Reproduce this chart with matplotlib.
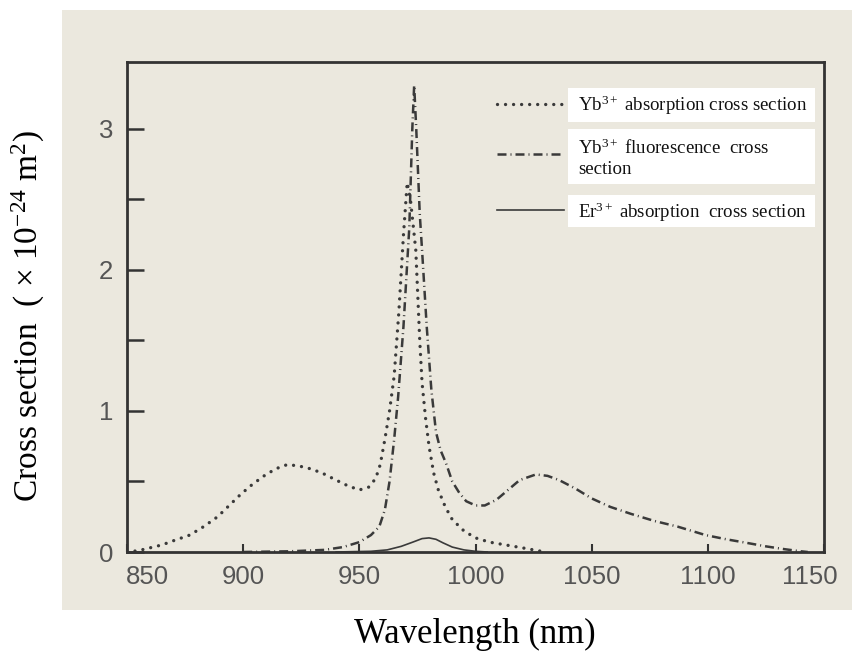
import matplotlib
matplotlib.use("Agg")
import matplotlib.pyplot as plt
from matplotlib.patches import Rectangle
from matplotlib.transforms import ScaledTranslation

# ---- data ----
abs_wl = [850, 855, 860, 865, 870, 877, 883, 889, 894, 899, 904, 909, 914, 919, 924,
          929, 934, 940, 945, 950, 954, 957, 959, 961, 963, 965, 967, 969, 970.6, 972,
          974.3, 976, 977, 978.5, 980, 982, 984, 987, 990, 995, 1000, 1006, 1013, 1020,
          1025, 1030]
abs_val = [0.0, 0.01, 0.03, 0.05, 0.08, 0.12, 0.18, 0.25, 0.33, 0.41, 0.48, 0.54, 0.59,
           0.62, 0.61, 0.59, 0.56, 0.51, 0.47, 0.44, 0.46, 0.52, 0.62, 0.80, 1.00, 1.25,
           1.70, 2.25, 2.62, 2.50, 2.14, 1.50, 1.20, 0.95, 0.75, 0.56, 0.44, 0.32, 0.23,
           0.15, 0.10, 0.07, 0.05, 0.03, 0.015, 0.0]

flu_wl = [900, 920, 935, 943, 950, 955, 958.6, 961, 963, 965, 966.7, 969, 971.5, 972.8,
          973.6, 974.5, 976, 977, 979, 981, 983, 985, 987.3, 990, 993, 996, 1000, 1004,
          1009, 1014, 1019, 1026, 1031, 1036, 1043, 1050, 1058, 1067, 1077, 1087, 1099,
          1108, 1117, 1125, 1133, 1140, 1143]
flu_val = [0.0, 0.005, 0.015, 0.035, 0.07, 0.12, 0.18, 0.30, 0.50, 0.80, 1.10, 1.60, 2.30,
           3.00, 3.31, 3.00, 2.40, 2.14, 1.60, 1.15, 0.85, 0.72, 0.63, 0.50, 0.42, 0.36,
           0.33, 0.33, 0.37, 0.44, 0.51, 0.55, 0.54, 0.51, 0.45, 0.38, 0.32, 0.27, 0.22,
           0.18, 0.12, 0.09, 0.064, 0.04, 0.02, 0.005, 0.0]

er_wl = [940, 955, 962, 968, 973, 977, 980, 983, 986, 990, 995, 1000, 1005]
er_val = [0.0, 0.005, 0.015, 0.04, 0.07, 0.095, 0.10, 0.09, 0.065, 0.035, 0.015, 0.005, 0.0]

x_ticks = [850, 900, 950, 1000, 1050, 1100, 1150]
y_ticks = [0, 0.5, 1, 1.5, 2, 2.5, 3]
y_ticklabels = ["0", "", "1", "", "2", "", "3"]

legend_labels = ["Yb$^{3+}$ absorption cross section",
                 "Yb$^{3+}$ fluorescence  cross\nsection",
                 "Er$^{3+}$ absorption  cross section"]

# ---- styling ----
plt.rcParams['mathtext.fontset'] = 'custom'
plt.rcParams['mathtext.rm'] = 'Liberation Serif'
plt.rcParams['mathtext.it'] = 'Liberation Serif:italic'
plt.rcParams['mathtext.bf'] = 'Liberation Serif:bold'

W, H = 852, 651
fig = plt.figure(figsize=(W / 100, H / 100), dpi=100, facecolor='white')

paper = '#ebe8de'
ink = '#3a3a3a'
fig.patches.append(Rectangle((62 / W, 1 - 610 / H), (852 - 62) / W, 600 / H,
                             transform=fig.transFigure, facecolor=paper,
                             edgecolor='none', zorder=-10))

ax_l, ax_r, ax_t, ax_b = 127, 824, 62, 552
ax = fig.add_axes([ax_l / W, 1 - ax_b / H, (ax_r - ax_l) / W, (ax_b - ax_t) / H])
ax.set_zorder(1)
ax.set_facecolor(paper)

ax.plot(abs_wl, abs_val, color=ink, lw=2.4, linestyle=(0, (0.01, 2.4)),
        dash_capstyle='round')
ax.plot(flu_wl, flu_val, color=ink, lw=1.8, linestyle=(0, (3.6, 1.6, 0.4, 1.6)))
ax.plot(er_wl, er_val, color=ink, lw=1.2, linestyle='-')

ax.set_xlim(850, 1150)
ax.set_ylim(0, 3.475)

for s in ax.spines.values():
    s.set_color('#333333')
    s.set_linewidth(2.0)

ax.set_xticks(x_ticks)
ax.set_xticklabels([str(t) for t in x_ticks])
ax.set_yticks(y_ticks)
ax.set_yticklabels(y_ticklabels)
ax.tick_params(axis='x', direction='in', length=6, width=1.5, color='#333333',
               labelsize=18.5, labelcolor='#555555', pad=9)
ax.tick_params(axis='y', direction='in', length=12, width=1.8, color='#333333',
               labelsize=18.5, labelcolor='#555555', pad=10)
for lab in ax.get_xticklabels() + ax.get_yticklabels():
    lab.set_family('Liberation Sans')

xl = ax.get_xticklabels()
xl[0].set_transform(xl[0].get_transform() + ScaledTranslation(0.20, 0, fig.dpi_scale_trans))
xl[-1].set_transform(xl[-1].get_transform() + ScaledTranslation(-0.14, 0, fig.dpi_scale_trans))

# ---- legend (manual, white boxes) ----
def fx(px):
    return (px - ax_l) / (ax_r - ax_l)

def fy(py):
    return (ax_b - py) / (ax_b - ax_t)

boxes = [(88, 122), (129, 184), (195, 227)]
text_y = [105, 158, 212]
key_y = [104, 154, 210]
styles = [dict(lw=2.4, linestyle=(0, (0.01, 2.4)), dash_capstyle='round'),
          dict(lw=1.8, linestyle=(0, (3.6, 1.6, 0.4, 1.6))),
          dict(lw=1.2, linestyle='-')]
for (y0, y1), ty, ky, st, lab in zip(boxes, text_y, key_y, styles, legend_labels):
    ax.add_patch(Rectangle((fx(568), fy(y1)), fx(815) - fx(568), fy(y0) - fy(y1),
                           transform=ax.transAxes, facecolor='white',
                           edgecolor='none', zorder=5))
    ax.plot([fx(497), fx(564)], [fy(ky), fy(ky)], transform=ax.transAxes,
            color=ink, zorder=5, **st)
    ax.text(fx(578), fy(ty), lab, transform=ax.transAxes, ha='left', va='center',
            fontsize=13.6, family='Liberation Serif', color='#111111', zorder=6,
            linespacing=1.25)

# ---- axis titles ----
fig.text(475 / W, 1 - 634 / H, "Wavelength (nm)", ha='center', va='center',
         fontsize=25, family='Liberation Serif', color='black')
fig.text(28 / W, 1 - 316 / H, "Cross section  ( × 10$^{-24}$ m$^{2}$)", ha='center',
         va='center', rotation=90, fontsize=24, family='Liberation Serif', color='black')

fig.savefig('out.png', dpi=100, facecolor='white')
